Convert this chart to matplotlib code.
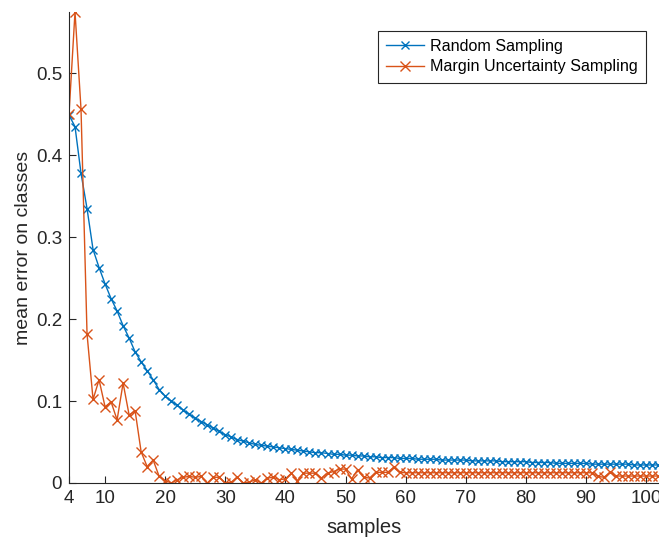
import matplotlib
matplotlib.use("Agg")
import matplotlib.pyplot as plt

plt.rcParams['font.family'] = ['Liberation Sans', 'DejaVu Sans']

# number of labelled samples (4 .. 102)
samples = list(range(4, 103))

# mean error with random sampling
random_err = [
    0.449, 0.435, 0.378, 0.335, 0.285, 0.263, 0.243, 0.225, 0.210, 0.192,
    0.177, 0.160, 0.148, 0.137, 0.126, 0.114, 0.106, 0.100, 0.095, 0.089,
    0.084, 0.079, 0.075, 0.071, 0.067, 0.063, 0.059, 0.056, 0.053, 0.051,
    0.049, 0.047, 0.046, 0.045, 0.044, 0.043, 0.042, 0.041, 0.040, 0.039,
    0.038, 0.037, 0.037, 0.036, 0.035, 0.035, 0.034, 0.034, 0.033, 0.033,
    0.032, 0.032, 0.031, 0.031, 0.031, 0.030, 0.030, 0.030, 0.029, 0.029,
    0.029, 0.029, 0.028, 0.028, 0.028, 0.028, 0.028, 0.027, 0.027, 0.027,
    0.027, 0.027, 0.026, 0.026, 0.026, 0.026, 0.026, 0.025, 0.025, 0.025,
    0.025, 0.024, 0.024, 0.024, 0.024, 0.024, 0.024, 0.023, 0.023, 0.023,
    0.023, 0.023, 0.023, 0.023, 0.022, 0.022, 0.022, 0.022, 0.022,
]

# mean error with margin uncertainty sampling
margin_err = [
    0.450, 0.575, 0.456, 0.182, 0.102, 0.126, 0.093, 0.099, 0.077, 0.122,
    0.083, 0.088, 0.038, 0.020, 0.028, 0.008, 0.003, 0.000, 0.004, 0.007,
    0.008, 0.007, 0.008, 0.000, 0.007, 0.007, 0.000, 0.001, 0.007, 0.000,
    0.001, 0.004, 0.000, 0.006, 0.007, 0.004, 0.005, 0.012, 0.003, 0.012,
    0.012, 0.012, 0.006, 0.012, 0.014, 0.017, 0.017, 0.005, 0.016, 0.007,
    0.006, 0.013, 0.013, 0.013, 0.019, 0.013, 0.0125, 0.0125, 0.0125, 0.0125,
    0.0125, 0.0125, 0.0125, 0.0125, 0.0125, 0.0125, 0.0125, 0.0125, 0.0125, 0.0125,
    0.0125, 0.0125, 0.0125, 0.0125, 0.0125, 0.0125, 0.0125, 0.0125, 0.0125, 0.0125,
    0.0125, 0.0125, 0.0125, 0.0125, 0.0125, 0.0125, 0.0125, 0.0125, 0.008, 0.007,
    0.013, 0.0085, 0.0085, 0.0085, 0.0085, 0.0085, 0.0085, 0.0085, 0.0085,
]

xticks = [4, 10, 20, 30, 40, 50, 60, 70, 80, 90, 100]
yticks = [0, 0.1, 0.2, 0.3, 0.4, 0.5]

axis_col = '#262626'

fig = plt.figure(figsize=(6.59, 5.39), dpi=100)
ax = fig.add_axes([0.1047, 0.1039, 0.894, 0.874])

ax.plot(samples, random_err, color='#0072BD', lw=1.0, marker='x', ms=6,
        mew=1.0, label='Random Sampling')
ax.plot(samples, margin_err, color='#D95319', lw=1.0, marker='x', ms=7,
        mew=1.0, label='Margin Uncertainty Sampling')

ax.set_xlim(4, 102)
ax.set_ylim(0, 0.575)
ax.set_xticks(xticks)
ax.set_yticks(yticks)
ax.set_yticklabels(['0', '0.1', '0.2', '0.3', '0.4', '0.5'])

for side in ['top', 'right']:
    ax.spines[side].set_visible(False)
for side in ['left', 'bottom']:
    ax.spines[side].set_color(axis_col)
    ax.spines[side].set_linewidth(0.8)
ax.tick_params(direction='in', length=5, width=0.8, colors=axis_col,
               labelsize=13.5, pad=5)

ax.set_xlabel('samples', fontsize=14.5, color=axis_col, labelpad=8)
ax.set_ylabel('mean error on classes', fontsize=14, color=axis_col, labelpad=3)

leg = ax.legend(loc='upper right', bbox_to_anchor=(0.979, 0.96), fontsize=11.6,
                fancybox=False, framealpha=1, edgecolor=axis_col,
                handlelength=2.4, borderpad=0.5, labelspacing=0.35,
                handletextpad=0.35, borderaxespad=0)
leg.get_frame().set_linewidth(0.8)

fig.savefig('out.png', dpi=100)
